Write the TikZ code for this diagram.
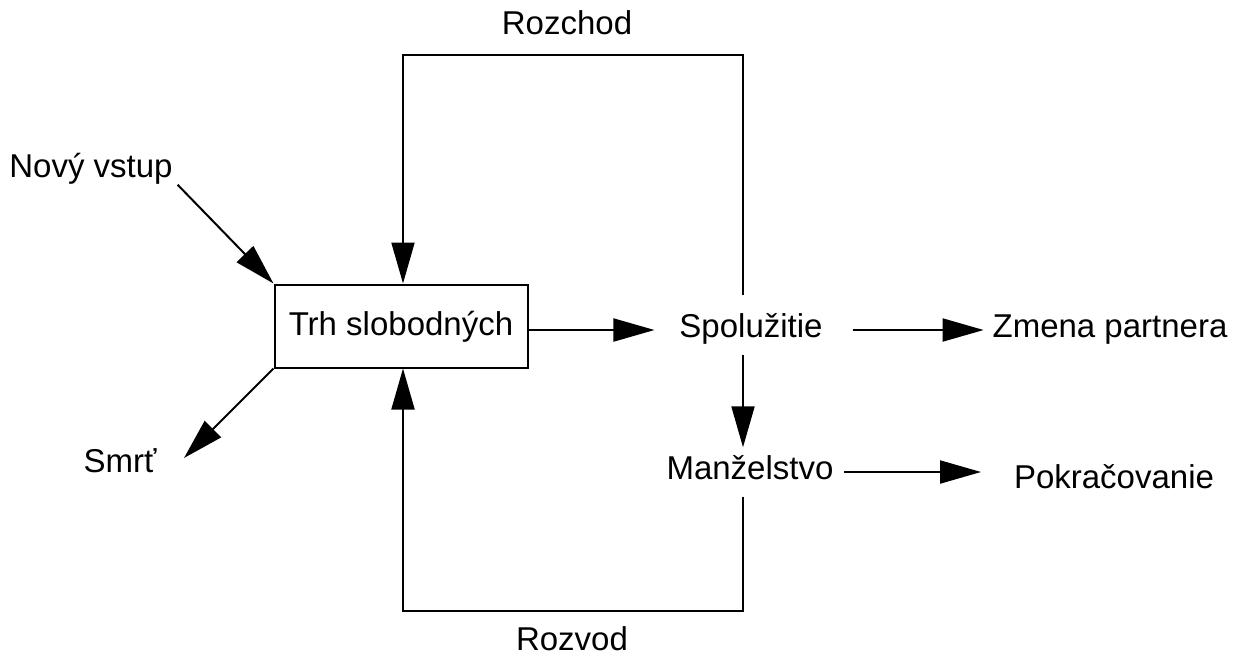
\documentclass[tikz,border=0pt]{standalone}
\usepackage{fontspec}
\setmainfont{Liberation Sans}
\usetikzlibrary{arrows.meta}
\begin{document}
\begin{tikzpicture}[x=0.5pt,y=-0.5pt,
  font=\fontsize{16.5}{20}\selectfont,
  line width=1pt,
  arr/.style={-{Triangle[length=20.5pt,width=11.5pt]}},
  lbl/.style={inner sep=2pt,text height=0.85em,text depth=0.123em},
  market/.style={draw,line width=1pt,inner sep=0pt,minimum width=126.5pt,
    minimum height=41.5pt,text height=0.96em,text depth=0pt}]
\useasboundingbox (0,0) rectangle (1236,660);

% nodes
\node[market] (trh) at (401,326) {Trh slobodných};
\node[lbl,inner xsep=12pt,inner ysep=12pt] (spol) at (751,330) {Spolužitie};
\node[lbl,inner xsep=5pt,inner ysep=7pt] (manz) at (750,472) {Manželstvo};
\node[lbl,inner xsep=4pt] (zmena) at (1110,330) {Zmena partnera};
\node[lbl,inner xsep=16pt] (pokr) at (1114,481) {Pokračovanie};
\node[lbl] (novy) at (91,170) {Nový vstup};
\node[lbl] (smrt) at (120,465) {Smrť};
\node[lbl] (rozchod) at (567,27) {Rozchod};
\node[lbl] (rozvod) at (572,643) {Rozvod};
\coordinate (smrtend) at (184,458);

% flows
\draw[arr] (novy.south east) -- (trh.north west);
\draw[arr] (trh.south west) -- (smrtend);
\draw[arr] (trh.east |- spol.west) -- (spol.west);
\draw[arr] ([xshift=2.5pt]spol.east) -- (zmena.west);
\draw[arr] ([xshift=-4pt,yshift=5pt]spol.south) -- ([xshift=-3.5pt]manz.north);
\draw[arr] (manz.east) -- (manz.east -| pokr.west);

% feedback loops
\draw[arr] ([xshift=-4pt]spol.north) -- ++(0,-240) -| ([xshift=1pt]trh.north);
\draw[arr] ([xshift=-3.5pt]manz.south) -- ++(0,114) -| ([xshift=1pt]trh.south);
\end{tikzpicture}
\end{document}
